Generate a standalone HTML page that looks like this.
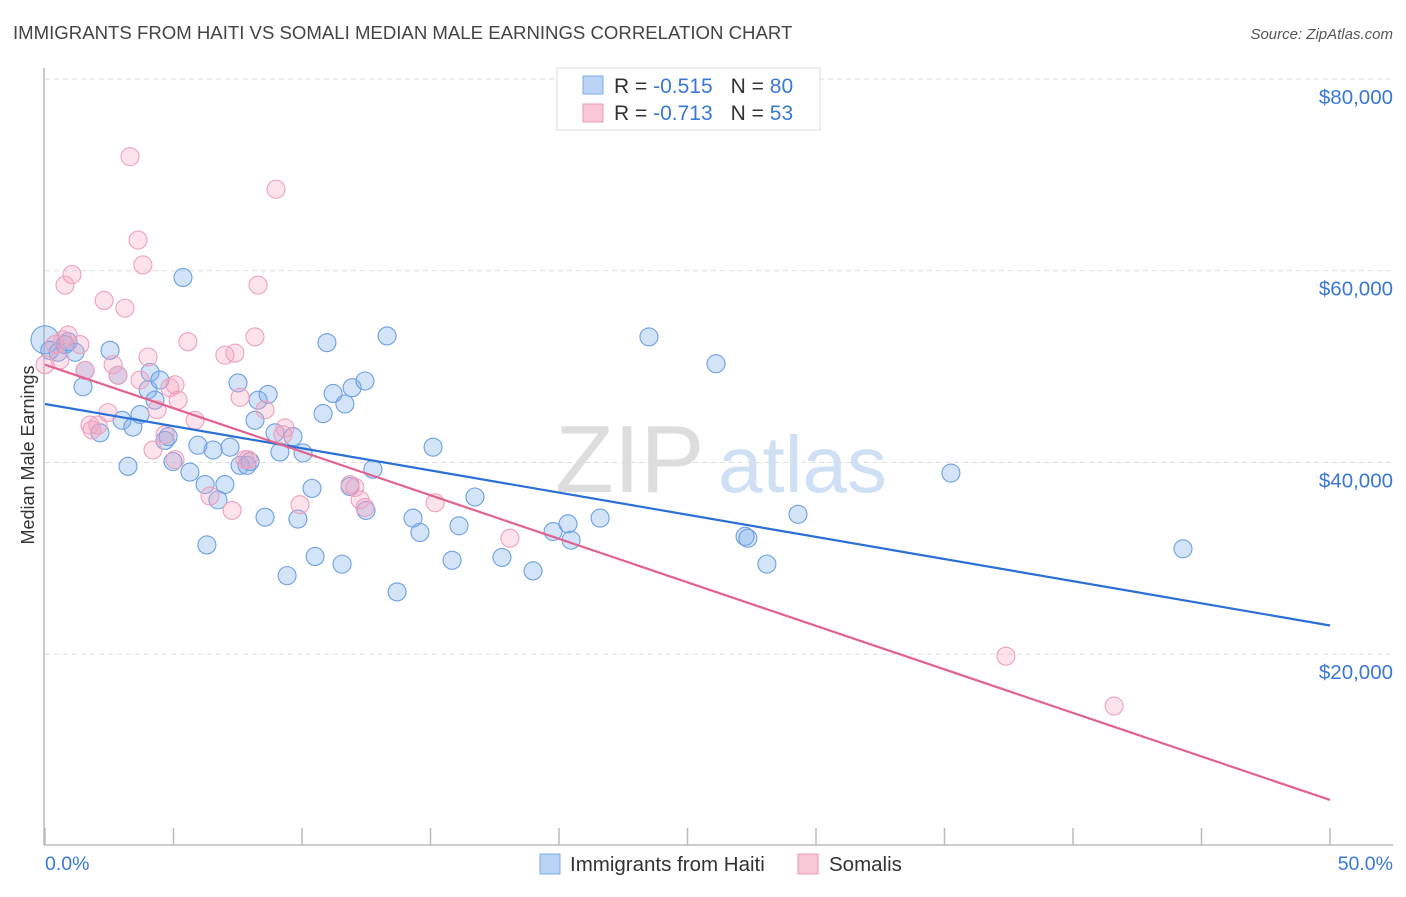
<!DOCTYPE html>
<html><head><meta charset="utf-8"><style>
body{margin:0;background:#fff;font-family:"Liberation Sans",sans-serif;}
svg text{font-family:"Liberation Sans",sans-serif;}
</style></head><body>
<svg id="chart" width="1406" height="892" viewBox="0 0 1406 892" xmlns="http://www.w3.org/2000/svg">
<text x="13" y="39" font-size="18.6" fill="#444">IMMIGRANTS FROM HAITI VS SOMALI MEDIAN MALE EARNINGS CORRELATION CHART</text>
<text x="1393" y="39" font-size="15" fill="#555" font-style="italic" text-anchor="end">Source: ZipAtlas.com</text>
<g>
<text x="555" y="492" font-size="96" fill="#ddd" font-family="Liberation Serif,serif">ZIP</text>
<text x="718" y="492" font-size="80" fill="#cfe0f5">atlas</text>
</g>
<g id="grid"></g>
<line x1="44" y1="68" x2="44" y2="845" stroke="#bbb" stroke-width="1.5"/>
<line x1="44" y1="845" x2="1393" y2="845" stroke="#bbb" stroke-width="1.5"/>
<text transform="translate(34,455) rotate(-90)" font-size="18" fill="#333" text-anchor="middle">Median Male Earnings</text>
<g id="ticks"></g>
<g id="pts"></g>
<g id="lines"></g>
<g>
<rect x="557" y="68" width="263" height="62" fill="#fff" stroke="#ddd"/>
<rect x="583" y="76" width="20" height="18" fill="#b9d3f5" stroke="#7fa9e6"/>
<rect x="583" y="104" width="20" height="18" fill="#f9c6d6" stroke="#ee9ab7"/>
<text x="614" y="93" font-size="21" fill="#333">R = <tspan fill="#3a78d8">-0.515</tspan><tspan dx="18">N = </tspan><tspan fill="#3a78d8">80</tspan></text>
<text x="614" y="120" font-size="21" fill="#333">R = <tspan fill="#3a78d8">-0.713</tspan><tspan dx="18">N = </tspan><tspan fill="#3a78d8"> 53</tspan></text>
</g>
<text x="45" y="870" font-size="19.5" fill="#3a78d8">0.0%</text>
<text x="1393" y="870" font-size="19.5" fill="#3a78d8" text-anchor="end">50.0%</text>
<g>
<rect x="540" y="854" width="20" height="20" fill="#b9d3f5" stroke="#7fa9e6"/>
<text x="570" y="871" font-size="20.5" fill="#333">Immigrants from Haiti</text></g>
<g>
<rect x="798" y="854" width="20" height="20" fill="#f9c6d6" stroke="#ee9ab7"/>
<text x="829" y="871" font-size="20.5" fill="#333">Somalis</text></g>
</svg>
<script>
const yTicks=[20000,40000,60000,80000];
const yTickLabels=["$20,000","$40,000","$60,000","$80,000"];
const xTicks=[0,5,10,15,20,25,30,35,40,45,50];
const haitiX=[0,0.19,0.51,0.78,0.9,1.17,1.56,1.48,2.14,2.53,2.84,3.0,3.23,3.42,3.7,4.01,4.09,4.28,4.47,4.67,4.79,4.98,5.37,5.64,5.95,6.23,6.3,6.54,6.73,7.0,7.2,7.51,7.59,7.86,7.98,8.17,8.29,8.56,8.68,8.95,9.14,9.42,9.65,9.84,10.04,10.39,10.51,10.82,10.97,11.21,11.56,11.67,11.95,11.87,12.45,12.49,12.76,13.31,13.7,14.32,14.59,15.1,15.84,16.11,16.73,17.78,18.99,19.77,20.35,20.47,21.6,23.5,26.11,27.24,27.35,28.09,29.3,35.25,44.28];
const haitiY=[52800,51700,51500,52300,52600,51500,49600,47900,43100,51700,49100,44400,39600,43700,45000,47600,49400,46500,48600,42300,42700,40100,59300,39000,41800,37700,31400,41300,36100,37700,41600,48300,39700,39700,40100,44400,46500,34300,47100,43100,41100,28200,42700,34100,41000,37300,30200,45100,52500,47200,29400,46100,47800,37500,48500,35000,39300,53200,26500,34200,32700,41600,29800,33400,36400,30100,28700,32800,33600,31900,34200,53100,50300,32300,32100,29400,34600,38900,31000];
const somaliX=[0,0.39,0.58,0.7,0.9,1.05,0.78,1.36,1.56,1.83,2.06,2.3,2.45,2.65,2.84,3.11,3.31,3.62,3.7,3.81,4.01,4.2,4.36,4.67,4.86,5.06,5.18,5.56,5.84,6.42,7.0,7.28,7.39,7.59,7.78,7.9,8.17,8.29,8.56,8.99,9.26,9.34,9.92,11.87,12.06,12.26,12.45,15.18,18.09,37.39,41.6,1.75,5.06];
const somaliY=[50200,52300,50700,52800,53300,59600,58500,52300,49600,43400,43900,56900,45200,50200,49100,56100,71900,63200,48600,60600,51000,41300,45500,42900,47800,40300,46500,52600,44400,36500,51200,35000,51400,46800,40300,40300,53100,58500,45500,68500,42900,43600,35600,37700,37400,36100,35300,35800,32100,19800,14600,43900,48100];
const trendHaiti=[46100,23000];
const trendSomali=[50200,4800];
const NS="http://www.w3.org/2000/svg";
const xs=v=>45+v*25.7;
const ys=v=>846-v/104.3;
function mk(t,a,p){const e=document.createElementNS(NS,t);for(const k in a)e.setAttribute(k,a[k]);document.getElementById(p).appendChild(e);return e;}
yTicks.forEach((t,i)=>{
 const g=mk('line',{x1:45,x2:1393,y1:ys(t),y2:ys(t),stroke:'#ddd','stroke-dasharray':'5,4'},'grid');
 
 
 const l=mk('text',{x:1393,y:ys(t)+25,'font-size':20.5,fill:'#3a78d8','text-anchor':'end'},'ticks');
 l.textContent=yTickLabels[i];
 
 
});
xTicks.forEach(t=>{
 const k=mk('line',{x1:xs(t),x2:xs(t),y1:828,y2:845,stroke:'#bbb','stroke-width':1.5},'ticks');
 
 
});
haitiX.forEach((x,i)=>{
 const c=mk('circle',{cx:xs(x),cy:ys(haitiY[i]),r:i==0?14:9,fill:'rgba(130,175,235,0.35)',stroke:'#6c9fe2','stroke-width':1.1},'pts');
 
 
});
somaliX.forEach((x,i)=>{
 const c=mk('circle',{cx:xs(x),cy:ys(somaliY[i]),r:9,fill:'rgba(245,160,190,0.3)',stroke:'#eea0bb','stroke-width':1.1},'pts');
 
 
});
const lb=mk('line',{x1:xs(0),y1:ys(trendHaiti[0]),x2:xs(50),y2:ys(trendHaiti[1]),stroke:'#2a6fd6','stroke-width':2.2},'lines');


const lp=mk('line',{x1:xs(0),y1:ys(trendSomali[0]),x2:xs(50),y2:ys(trendSomali[1]),stroke:'#e2628d','stroke-width':2.2},'lines');


</script>
</body></html>
